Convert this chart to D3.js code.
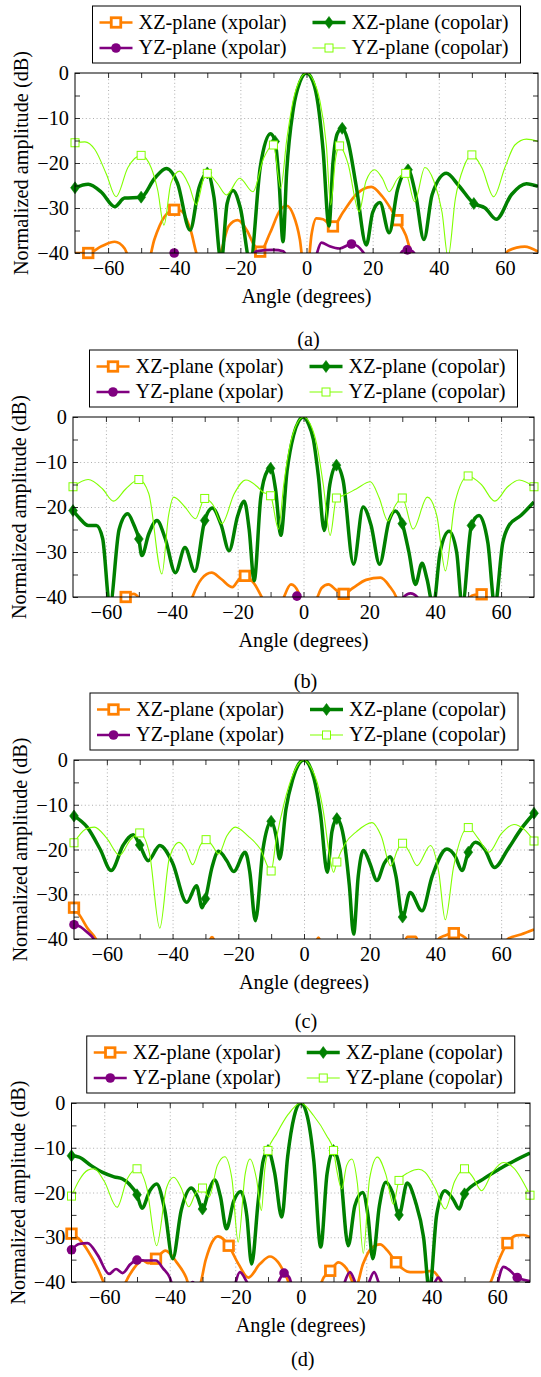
<!DOCTYPE html>
<html>
<head>
<meta charset="utf-8">
<script src="https://cdn.jsdelivr.net/npm/d3@7"></script>
<style>
  body { margin: 0; background: #fff; }
  svg text { font-family: "Liberation Serif", "DejaVu Serif", serif !important; fill: #000; }
</style>
</head>
<body>
<svg id="fig" width="541" height="1377" font-family="Liberation Serif, DejaVu Serif, serif"></svg>
<script>
// ---- data (angle in degrees, normalized amplitude in dB) ----

var xTickVals = [-60, -40, -20, 0, 20, 40, 60];
var xMinorVals = [-50, -30, -10, 10, 30, 50];
var yTickVals = [0, -10, -20, -30, -40];
var yMinorVals = [-5, -15, -25, -35];
var legendLabels = ["XZ-plane (xpolar)", "XZ-plane (copolar)", "YZ-plane (xpolar)", "YZ-plane (copolar)"];
var captions = ["(a)", "(b)", "(c)", "(d)"];

// panel (a)
var aXZx = [[-70,-40],[-66,-40],[-62,-38.5],[-58,-37.5],[-55,-39],[-53,-42],[-48,-42],[-46,-37],[-43,-32],[-40,-30.4],[-38,-30.6],[-35,-35],[-32.8,-41],[-29,-43],[-26,-40],[-23.5,-34],[-20.8,-32.7],[-18,-35],[-16,-38],[-14,-39.7],[-11,-35.5],[-8,-30.5],[-6,-29.5],[-4,-31.5],[-2,-37],[-1,-42],[0.5,-42],[1.5,-36],[3,-32.3],[5,-32.5],[8,-34.1],[11,-31],[15,-27],[19.6,-25.3],[23,-27.5],[27.5,-32.7],[30,-36],[32.2,-41],[40,-45],[58,-43],[61,-39.5],[66,-38.6],[70,-39.7]];
var aYZx = [[-44,-42],[-40,-40],[-37,-42],[-18,-42],[-15,-39.6],[-10,-39.3],[-7,-39.6],[-5,-42],[2,-42],[4.5,-37.7],[7,-38.5],[10,-39],[13.6,-38],[15.5,-38.5],[17.1,-39.8],[19,-42],[27,-42],[29,-39.6],[30.5,-39.3],[32,-39.6],[34,-42]];
var aXZco = [[-70,-25.5],[-66,-24.7],[-62,-26.5],[-58,-29.7],[-55,-27.8],[-50,-27.6],[-46,-23.5],[-42.4,-21.2],[-39,-24.5],[-35.2,-34.9],[-32.5,-25.5],[-30,-22.2],[-28,-27.5],[-25.8,-42],[-24,-29],[-22.2,-26.1],[-20,-30],[-17,-42],[-14,-21],[-10.9,-13.5],[-9.5,-15.2],[-8.3,-24],[-7.1,-37.5],[-6,-22],[-4,-8],[-2,-2],[0,0],[2,-2],[3.5,-7],[5,-17],[6.8,-34],[8,-20],[9.3,-13.5],[10.8,-12.3],[12.5,-15],[15,-25],[18.1,-38.2],[20,-31],[22.2,-28.8],[25,-35.5],[27.5,-26],[30.7,-21.5],[33,-27],[35.5,-37],[38,-27],[42.3,-22.3],[46,-25],[50.6,-29],[54,-30],[57.4,-32.5],[62,-27],[66.5,-24.6],[70,-25.2]];
var aYZco = [[-70,-15.5],[-67,-15.3],[-64,-17],[-60.5,-22.5],[-57.6,-27.5],[-54,-21],[-50,-18.3],[-47,-21],[-45,-26],[-43.1,-33.8],[-41,-24.5],[-38.4,-21.8],[-35.5,-25],[-33.3,-29.3],[-31,-23.2],[-30,-22.3],[-27,-24.5],[-24.2,-27.1],[-20.2,-23.4],[-16.2,-26.4],[-13,-19],[-10,-16],[-7.8,-25.6],[-6,-15],[-4,-6],[-2,-1.5],[0,0],[2,-1.5],[4,-6],[6,-16],[7.3,-29.3],[8.8,-19],[10,-16.2],[12.5,-20],[15.9,-30.8],[18,-24],[20.6,-21.5],[23,-23.5],[25,-26.4],[27.5,-23.5],[30,-22.3],[32.7,-28.6],[35.8,-21],[38.5,-24],[41,-31],[42.8,-41],[45,-28],[47.5,-21],[50,-18.2],[53,-21],[56.6,-27.5],[60,-21],[63,-16],[66.5,-14.7],[70,-15.2]];
var aXZxMarks = [-66, -40, -14, 8, 27.5];
var aYZxMarks = [-40, 13.6, 30.5];
var aXZcoMarks = [-70, -50, -30, -9.5, 10.8, 30.7, 50.6];
var aYZcoMarks = [-70, -50, -30, -10, 10, 30, 50];

// panel (b)
var bXZx = [[-70,-45],[-56,-42],[-54,-40],[-51.6,-39.3],[-49.5,-41],[-48,-45],[-36,-45],[-34,-40.5],[-31,-36],[-27.9,-34.6],[-25,-36],[-21.6,-37.8],[-19.5,-36],[-17.8,-35.3],[-15,-37],[-12,-41],[-9,-45],[-6.5,-41],[-3.8,-37.2],[-1.5,-39],[-0.5,-42],[3.5,-41],[5.5,-38],[7.6,-37.2],[10,-38.5],[12.2,-39.3],[15,-38],[19,-36.2],[23.4,-35.7],[26,-37.5],[28.4,-40.5],[30,-45],[48,-45],[50,-40.5],[52,-39.5],[54.1,-39.4],[56,-40.5],[58,-45],[69,-42],[70,-40]];
var bYZx = [[-6,-42],[-4,-40.5],[-2,-39.8],[0,-40.5],[1.5,-42],[29,-42],[30.5,-40],[32.5,-39.2],[34.5,-40],[36,-42]];
var bXZco = [[-70,-20.8],[-68,-22.5],[-65.4,-24.1],[-62.9,-24.1],[-61,-27],[-58.8,-42],[-56,-25],[-53.4,-21.5],[-51.5,-24],[-50,-27.1],[-49.1,-30.8],[-47,-26],[-44.5,-23],[-42,-27],[-38.9,-34.6],[-36,-29],[-33,-34.3],[-30,-23],[-27.7,-20.2],[-25,-24],[-22.6,-29.7],[-20,-22],[-18,-18.7],[-16.5,-25],[-15,-36.4],[-13,-18],[-11,-12],[-10,-11.4],[-8.5,-16],[-6.9,-26.3],[-5,-12],[-3,-4],[-1.5,-1],[0,0],[1.5,-1.5],[3,-5],[4.5,-13],[6.3,-25.2],[8,-15],[10,-10.7],[12,-14],[15.2,-32.7],[18.1,-20],[20.5,-24],[23.1,-32.7],[26,-23],[27.9,-20.9],[30,-23.7],[32,-30],[34,-37.2],[36,-32.5],[37.5,-36],[39.4,-42],[41.5,-30],[44.2,-25.4],[46.5,-30],[48.2,-42],[51,-24.1],[53.3,-21.9],[56,-28],[58.1,-42],[60.5,-28],[62.4,-24.1],[66,-21.9],[70,-18.9]];
var bYZco = [[-70,-15.5],[-65.4,-13.9],[-61,-16],[-57.7,-18.7],[-54,-16],[-50,-13.9],[-47,-17],[-43,-34.9],[-41,-22],[-39.4,-17.8],[-36,-20],[-32.8,-22.6],[-30,-18.1],[-27.5,-19.5],[-24.8,-23.7],[-21,-17],[-17.5,-14],[-14,-15.5],[-12.5,-16.6],[-10,-17.5],[-7.6,-24.9],[-6,-15],[-4,-6],[-2,-1.5],[0,0],[2,-1.5],[4,-6],[6,-15],[8.1,-26.3],[10,-18],[12.2,-17.4],[16,-16],[20.3,-14.4],[23,-18],[25.6,-23.1],[28,-19.5],[30,-18],[33.3,-24.9],[37.6,-17.8],[40.5,-22],[43.1,-34.2],[46,-19],[50,-13.1],[54,-15],[58.1,-18.7],[62,-15.5],[65.5,-14],[70,-15.5]];
var bXZxMarks = [-54, -17.8, 12.2, 54.1];
var bYZxMarks = [-2];
var bXZcoMarks = [-70, -50, -30, -10, 10, 30, 51];
var bYZcoMarks = [-70, -50, -30, -10, 10, 30, 50, 70];

// panel (c)
var cXZx = [[-70,-33],[-68,-35],[-66,-37.5],[-63,-40.5],[-61,-45],[-31,-45],[-28,-39.6],[-25,-45],[2,-45],[4.4,-39.7],[6.5,-45],[29,-45],[31.5,-39.5],[34,-39.5],[36,-45],[39,-45],[40.5,-40.3],[43,-39.2],[45.6,-38.7],[48,-39.2],[50,-40.5],[52,-45],[60,-45],[62,-40],[66,-39],[70,-37.9]];
var cYZx = [[-70,-36.8],[-68,-37.3],[-66,-38.5],[-64,-40],[-62.5,-43]];
var cXZco = [[-70,-12.5],[-66,-15],[-62,-20],[-58.7,-24.7],[-55,-19],[-52,-16.7],[-50,-19],[-47.4,-22.5],[-43.9,-19.1],[-40,-23],[-35.7,-31.8],[-32.7,-28.1],[-31,-33],[-30,-31],[-28,-24],[-26,-20.4],[-23.5,-22.5],[-21.4,-24.9],[-17.9,-20.6],[-16.5,-25],[-14.8,-35.9],[-12.5,-20],[-10,-13.7],[-8.5,-17],[-7.4,-22.1],[-5.5,-11],[-3.5,-4.5],[-1.5,-0.8],[0,0],[1.5,-1],[3,-4],[5,-12],[7.1,-25.1],[8.5,-16],[10,-13.1],[12,-17],[13.8,-28],[15.1,-38.9],[16.5,-26],[18.1,-20.2],[20,-23],[22.2,-26.9],[24.5,-23],[26.2,-21.6],[28,-26],[30,-35.1],[32.3,-29.6],[35.9,-33.7],[39,-26],[43.5,-19.9],[46,-21.5],[48.1,-24.7],[50,-20.6],[52.2,-18.4],[55,-20],[58,-24],[62,-20],[66,-15.5],[70,-11.9]];
var cYZco = [[-70,-18.5],[-66.5,-15.5],[-63.8,-15],[-60,-17.5],[-56.1,-21.3],[-53,-18],[-50,-16.3],[-47,-21],[-43.9,-37.6],[-41,-22],[-38,-18.4],[-36,-20],[-33.9,-23.4],[-31.5,-19],[-29.8,-17.8],[-28,-19],[-26,-21],[-23.5,-17],[-20.9,-15],[-17,-17],[-13.3,-19.9],[-10,-24.8],[-8.5,-18],[-6,-9.5],[-4,-4.5],[-2,-1.2],[0,0],[2,-1.5],[4,-5],[6,-12],[7.5,-20],[9,-25.1],[10,-22.8],[12.5,-18.7],[16,-16],[20.7,-14],[23.5,-17],[26.4,-23.7],[28.5,-20],[30,-18.6],[32,-20.5],[34.4,-23.6],[38.5,-19.1],[41,-25],[43,-35.7],[45.5,-24],[50,-15.1],[53,-17.5],[56.3,-20.6],[60,-16.5],[63.9,-14.4],[67,-15.5],[70,-18.1]];
var cXZxMarks = [-70, 45.6];
var cYZxMarks = [-70];
var cXZcoMarks = [-70, -50, -30, -10, 10, 30, 50, 70];
var cYZcoMarks = [-70, -50, -29.8, -10, 10, 30, 50, 70];

// panel (d)
var dXZx = [[-70,-29.2],[-67.7,-30.4],[-65,-33],[-62,-37],[-60,-40.5],[-58,-45],[-55,-43],[-54,-41],[-51,-37],[-48.3,-35.2],[-46.5,-35.8],[-44.2,-34.8],[-41.3,-33],[-38,-35.5],[-35,-39],[-33.5,-42],[-31,-41],[-29,-35],[-27,-31],[-25.3,-29.8],[-23.5,-30.5],[-22,-31.9],[-19,-36],[-16,-39],[-12.5,-36],[-9.4,-34.3],[-7,-35.5],[-4.3,-39],[-2.5,-42],[5,-42],[7,-39],[9,-37.5],[11.5,-35.6],[14,-37],[16.8,-41],[19,-36],[21.5,-32.5],[24.2,-31.6],[26.5,-33],[29.1,-35.6],[33.4,-37.8],[37,-37.8],[40,-37.5],[42.5,-39.5],[44,-42],[56,-42],[58,-40],[60,-36],[63.1,-31.3],[65.9,-29.6],[68,-29.5],[70,-30]];
var dYZx = [[-70,-32.8],[-67.7,-31.5],[-65.1,-31.3],[-62,-34],[-58.5,-38.2],[-56.4,-37.1],[-54.4,-38],[-52,-36],[-50,-35.1],[-47,-35.2],[-44.2,-35.2],[-42,-37],[-40,-39],[-39,-41],[-35,-42],[-33,-40],[-31,-42],[-21,-42],[-18.6,-37.8],[-16,-40.5],[-14,-42],[-8,-42],[-6.5,-39.5],[-5.1,-38],[-3.5,-39],[-2,-42],[12,-42],[15,-37.8],[17.5,-41],[20,-41],[22.4,-37.8],[24.5,-41],[40,-41],[42,-39],[44,-41],[59,-42],[61.9,-36.6],[64,-37.5],[66.1,-39],[70,-39.8]];
var dXZco = [[-70,-11.8],[-67.7,-12.1],[-64,-14],[-60.5,-15.5],[-57,-16.5],[-54.4,-17],[-52.4,-18.1],[-50,-20.5],[-48.5,-23.5],[-46,-19.5],[-44,-18.1],[-41.5,-24],[-39.1,-34.8],[-36.5,-24],[-33.4,-19],[-31.5,-21],[-30,-23.7],[-28,-19.5],[-26.3,-17.2],[-24.5,-21],[-22.7,-28.1],[-20.5,-22],[-18.3,-19.8],[-16.5,-25],[-15,-36],[-13,-22],[-11.5,-13],[-10,-10.6],[-8,-15.5],[-5.8,-25.5],[-4,-12],[-2,-3],[0,0],[2,-3],[4,-13],[6.1,-32.2],[8,-16],[10,-10.6],[12,-15],[14.5,-31.9],[16.5,-23],[18.9,-20],[20.5,-25],[22,-34.8],[24,-23],[26,-17.7],[28,-20],[30,-25],[32.5,-17.9],[35,-22],[37.5,-30],[39.3,-42],[41.5,-25],[44,-19.6],[46.5,-21.5],[48.4,-23.7],[50,-20.3],[55.7,-17],[60.8,-14.7],[65,-13],[70,-11.2]];
var dYZco = [[-70,-20.8],[-67.7,-17.3],[-65,-15],[-63.1,-14.7],[-60,-17.5],[-56.1,-23.3],[-53,-17],[-50,-14.7],[-47,-19],[-44,-31.9],[-41,-19],[-38.8,-16.6],[-36.5,-19],[-34.2,-23.2],[-32,-20],[-30,-19],[-28,-21],[-25.5,-14],[-23.2,-12],[-21,-17],[-19.1,-31.1],[-17,-16],[-15.5,-12.5],[-13.5,-17],[-12,-24],[-11,-15],[-10,-10.6],[-7.4,-6.9],[-3.8,-2.5],[0,0],[3.9,-2.8],[7.9,-7.3],[10,-10.6],[11,-15],[12.5,-19.2],[14,-14],[15.6,-12.5],[17.3,-18],[19.1,-33.6],[21,-17],[23.4,-12.1],[26,-16],[28.3,-22.6],[30,-17.3],[33,-15.5],[36,-14.8],[38,-15.5],[41,-19],[44.1,-23.7],[47,-17.5],[50,-14.7],[52.5,-16.5],[55.2,-19.6],[58.5,-15.5],[61.9,-13.3],[65,-14.5],[70,-20.6]];
var dXZxMarks = [-70, -44.2, -22, 9, 29.1, 63.1];
var dYZxMarks = [-70, -50, -5.1, 66.1];
var dXZcoMarks = [-70, -50, -30, -10, 10, 30, 50];
var dYZcoMarks = [-70, -50, -30, -10, 10, 30, 50, 70];

// ---- layout ----
var panels = [
  {id: "a", left: 75,   right: 538, top: 73,   bottom: 253,  capY: 340,
   series: [aXZx, aXZco, aYZx, aYZco], marks: [aXZxMarks, aXZcoMarks, aYZxMarks, aYZcoMarks]},
  {id: "b", left: 73,   right: 534, top: 417,  bottom: 597,  capY: 682,
   series: [bXZx, bXZco, bYZx, bYZco], marks: [bXZxMarks, bXZcoMarks, bYZxMarks, bYZcoMarks]},
  {id: "c", left: 74,   right: 534, top: 760,  bottom: 939,  capY: 1022,
   series: [cXZx, cXZco, cYZx, cYZco], marks: [cXZxMarks, cXZcoMarks, cYZxMarks, cYZcoMarks]},
  {id: "d", left: 71.5, right: 530, top: 1103, bottom: 1282, capY: 1360,
   series: [dXZx, dXZco, dYZx, dYZco], marks: [dXZxMarks, dXZcoMarks, dYZxMarks, dYZcoMarks]}
];

// order: XZ xpolar, XZ copolar, YZ xpolar, YZ copolar
var styles = [
  {color: "#ff8000", width: 2.7, mark: "square", size: 9.5, fill: "#fff", mw: 2.8},
  {color: "#008000", width: 3.5, mark: "diamond"},
  {color: "#800080", width: 2.7, mark: "circle"},
  {color: "#80ff00", width: 1.1, mark: "square", size: 8, fill: "#fff", mw: 1}
];

var fontSize = 20.3;
var svg = d3.select("#fig");

function yAt(data, a) {
  for (var i = 0; i < data.length; i++) {
    if (Math.abs(data[i][0] - a) < 1e-6) return data[i][1];
  }
  for (var j = 1; j < data.length; j++) {
    if (data[j][0] >= a) {
      var t = (a - data[j-1][0]) / (data[j][0] - data[j-1][0]);
      return data[j-1][1] + t * (data[j][1] - data[j-1][1]);
    }
  }
  return data[data.length - 1][1];
}

function drawMark(sel, st, cx, cy) {
  if (st.mark == "square") {
    var s = st.size;
    sel.append("rect")
      .attr("x", cx - s/2).attr("y", cy - s/2)
      .attr("width", s).attr("height", s)
      .attr("fill", st.fill).attr("stroke", st.color).attr("stroke-width", st.mw);
  } else if (st.mark == "circle") {
    sel.append("circle").attr("cx", cx).attr("cy", cy).attr("r", 4.8)
      .attr("fill", st.color);
  } else {
    var p = d3.path();
    p.moveTo(cx, cy - 6); p.lineTo(cx + 4.4, cy); p.lineTo(cx, cy + 6); p.lineTo(cx - 4.4, cy); p.closePath();
    sel.append("path").attr("d", p.toString()).attr("fill", st.color)
      .attr("stroke", st.color).attr("stroke-width", 0.6);
  }
}

function styleTicks(g) {
  g.select(".domain").remove();
  g.selectAll(".tick line").attr("stroke", "#000").attr("stroke-width", 0.8);
}

panels.forEach(function(p) {
  var w = p.right - p.left, h = p.bottom - p.top;
  var x = d3.scaleLinear().domain([-70, 70]).range([p.left, p.right]);
  var y = d3.scaleLinear().domain([-40, 0]).range([p.bottom, p.top]);
  var g = svg.append("g");

  // dotted grid
  g.append("g").attr("transform", "translate(0," + p.bottom + ")")
    .call(d3.axisBottom(x).tickValues(xTickVals).tickSize(-h).tickFormat(""))
    .call(function(s) { s.select(".domain").remove(); })
    .selectAll("line").attr("stroke", "#9a9a9a").attr("stroke-width", 0.8).attr("stroke-dasharray", "1,2.6");
  g.append("g").attr("transform", "translate(" + p.left + ",0)")
    .call(d3.axisLeft(y).tickValues([-10, -20, -30]).tickSize(-w).tickFormat(""))
    .call(function(s) { s.select(".domain").remove(); })
    .selectAll("line").attr("stroke", "#9a9a9a").attr("stroke-width", 0.8).attr("stroke-dasharray", "1,2.6");

  // curves
  var clipId = "clip-" + p.id;
  svg.append("clipPath").attr("id", clipId)
    .append("rect").attr("x", p.left).attr("y", p.top).attr("width", w).attr("height", h);

  var line = d3.line()
    .x(function(d) { return x(d[0]); })
    .y(function(d) { return y(d[1]); })
    .curve(d3.curveMonotoneX);

  var curves = g.append("g");
  p.series.forEach(function(data, k) {
    var st = styles[k];
    curves.append("path")
      .datum(data)
      .attr("clip-path", "url(#" + clipId + ")")
      .attr("fill", "none")
      .attr("stroke", st.color)
      .attr("stroke-width", st.width)
      .attr("stroke-linejoin", "round")
      .attr("d", line);
    p.marks[k].forEach(function(a) {
      drawMark(curves, st, x(a), y(yAt(data, a)));
    });
  });

  // frame and ticks (inside, on all four sides)
  var allX = xTickVals.concat(xMinorVals), allY = yTickVals.concat(yMinorVals);
  g.append("g").attr("transform", "translate(0," + p.bottom + ")")
    .call(d3.axisBottom(x).tickValues(allX).tickSize(-5).tickFormat(""))
    .call(styleTicks);
  g.append("g").attr("transform", "translate(0," + p.top + ")")
    .call(d3.axisTop(x).tickValues(allX).tickSize(-5).tickFormat(""))
    .call(styleTicks);
  g.append("g").attr("transform", "translate(" + p.left + ",0)")
    .call(d3.axisLeft(y).tickValues(allY).tickSize(-5).tickFormat(""))
    .call(styleTicks);
  g.append("g").attr("transform", "translate(" + p.right + ",0)")
    .call(d3.axisRight(y).tickValues(allY).tickSize(-5).tickFormat(""))
    .call(styleTicks);
  g.append("rect")
    .attr("x", p.left).attr("y", p.top).attr("width", w).attr("height", h)
    .attr("fill", "none").attr("stroke", "#000").attr("stroke-width", 1);

  // tick labels
  var xl = g.append("g").attr("transform", "translate(0," + p.bottom + ")")
    .call(d3.axisBottom(x).tickValues(xTickVals).tickSize(0).tickPadding(8).tickFormat(d3.format("d")));
  xl.select(".domain").remove();
  var yl = g.append("g").attr("transform", "translate(" + p.left + ",0)")
    .call(d3.axisLeft(y).tickValues(yTickVals).tickSize(0).tickPadding(6).tickFormat(d3.format("d")));
  yl.select(".domain").remove();
  [xl, yl].forEach(function(s) {
    s.attr("font-family", "Liberation Serif, DejaVu Serif, serif").attr("font-size", fontSize);
    s.selectAll("text").attr("font-size", fontSize);
  });

  // axis titles and caption
  var cx = (p.left + p.right) / 2;
  g.append("text").attr("x", cx).attr("y", p.bottom + 50)
    .attr("text-anchor", "middle").attr("font-size", fontSize).text("Angle (degrees)");
  g.append("text")
    .attr("transform", "translate(" + (p.left - 47) + "," + ((p.top + p.bottom) / 2) + ") rotate(-90)")
    .attr("text-anchor", "middle").attr("font-size", fontSize)
    .text("Normalized amplitude (dB)");
  g.append("text").attr("x", cx + 2).attr("y", p.capY + 6)
    .attr("text-anchor", "middle").attr("font-size", fontSize).text(captions[panels.indexOf(p)]);

  // legend
  var lw = 428, lh = 57;
  var lx = cx - lw / 2, ly = p.top - 67;
  var lg = g.append("g").attr("transform", "translate(" + lx + "," + ly + ")");
  lg.append("rect").attr("width", lw).attr("height", lh)
    .attr("fill", "#fff").attr("stroke", "#000").attr("stroke-width", 1);
  var colX = [7, 220], rowY = [16.5, 42];
  legendLabels.forEach(function(lab, k) {
    var st = styles[k];
    var c = k % 2, r = Math.floor(k / 2);
    var x0 = colX[c], yy = rowY[r];
    lg.append("line").attr("x1", x0).attr("x2", x0 + 33).attr("y1", yy).attr("y2", yy)
      .attr("stroke", st.color).attr("stroke-width", st.width);
    drawMark(lg, st, x0 + 16.5, yy);
    lg.append("text").attr("x", x0 + 39).attr("y", yy + 6)
      .attr("font-size", fontSize).text(lab);
  });
});
</script>
</body>
</html>
